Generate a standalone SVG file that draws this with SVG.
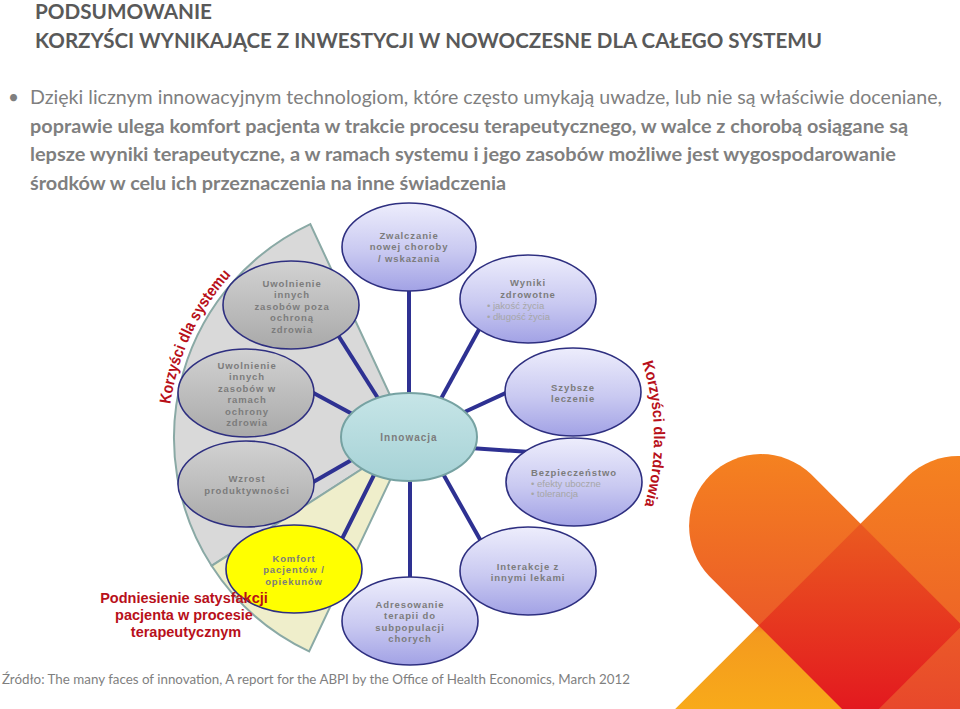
<svg xmlns="http://www.w3.org/2000/svg" width="960" height="709" viewBox="0 0 960 709">
<defs>
<linearGradient id="lav" x1="0" y1="0" x2="0" y2="1"><stop offset="0" stop-color="#ededfc"/><stop offset="0.55" stop-color="#c9c9f1"/><stop offset="1" stop-color="#a2a2e5"/></linearGradient>
<linearGradient id="gry" x1="0" y1="0" x2="0" y2="1"><stop offset="0" stop-color="#d2d2d2"/><stop offset="1" stop-color="#a9a9a9"/></linearGradient>
<linearGradient id="teal" x1="0" y1="0" x2="0" y2="1"><stop offset="0" stop-color="#c6e5e7"/><stop offset="1" stop-color="#a6d2d6"/></linearGradient>
<linearGradient id="hl" gradientUnits="userSpaceOnUse" x1="0" y1="453" x2="0" y2="709"><stop offset="0" stop-color="#f58220"/><stop offset="0.68" stop-color="#eb5a28"/><stop offset="1" stop-color="#e8482b"/></linearGradient>
<linearGradient id="hr" gradientUnits="userSpaceOnUse" x1="0" y1="455" x2="0" y2="709"><stop offset="0" stop-color="#f58220"/><stop offset="0.65" stop-color="#ee6626"/><stop offset="0.7" stop-color="#f49a1e"/><stop offset="1" stop-color="#f8aa1a"/></linearGradient>
<linearGradient id="hm" gradientUnits="userSpaceOnUse" x1="0" y1="524" x2="0" y2="709"><stop offset="0" stop-color="#ea5a20"/><stop offset="1" stop-color="#e3191f"/></linearGradient>
<path id="arcSys" d="M 170.4 404.3 A 242 242 0 0 1 233 273"/>
<path id="arcZdr" d="M 642.1 362.6 A 244 244 0 0 1 642.1 513.4"/>
</defs>
<style>
.hd{font-family:"Lato","Open Sans",sans-serif;font-weight:bold;font-size:20px;fill:#595959}
.bt{font-family:"Lato","Open Sans",sans-serif;font-size:19px;fill:#7f7f7f}
.bb{font-weight:bold}
.src{font-family:"Lato","Open Sans",sans-serif;font-size:14px;fill:#7f7f7f}
.n{fill:url(#lav);stroke:#2e2f80;stroke-width:1.6}
.g{fill:url(#gry);stroke:#2e2f80;stroke-width:1.6}
.y{fill:#ffff00;stroke:#2e2f80;stroke-width:1.6}
.inn{fill:url(#teal);stroke:#76a2a2;stroke-width:2}
.lbl{font-family:"Liberation Sans",Arial,sans-serif;font-weight:bold;font-size:9.5px;letter-spacing:0.9px;fill:#7c7c7c;text-anchor:middle}
.sub{font-family:"Liberation Sans",Arial,sans-serif;font-size:9.5px;fill:#a6a6a6}
.red{font-family:"Liberation Sans",Arial,sans-serif;font-weight:bold;fill:#b8101a}
.conn line{stroke:#2e3192;stroke-width:4}
.sec{stroke:#8aa9a5;stroke-width:2}
</style>
<rect width="960" height="709" fill="#ffffff"/>

<g id="logo">
<path d="M 908.1 476.1 L 608.1 776.1 L 709.9 877.9 L 1009.9 577.9 A 72 72 0 0 0 908.1 476.1 Z" fill="url(#hr)"/>
<path d="M 810.9 474.1 L 1110.9 774.1 L 1009.1 875.9 L 709.1 575.9 A 72 72 0 0 1 810.9 474.1 Z" fill="url(#hl)"/>
<path d="M 860.5 523.7 L 962.3 625.5 L 860.5 727.3 L 758.7 625.5 Z" fill="url(#hm)"/>
</g>

<g id="header">
<text class="hd" x="35" y="19" textLength="177" lengthAdjust="spacingAndGlyphs">PODSUMOWANIE</text>
<text class="hd" x="35" y="48" textLength="787" lengthAdjust="spacingAndGlyphs">KORZYŚCI WYNIKAJĄCE Z INWESTYCJI W NOWOCZESNE DLA CAŁEGO SYSTEMU</text>
</g>

<g id="bullet">
<text class="bt" x="8" y="104">•</text>
<text class="bt" x="30" y="104" textLength="912" lengthAdjust="spacingAndGlyphs">Dzięki licznym innowacyjnym technologiom, które często umykają uwadze, lub nie są właściwie doceniane,</text>
<text class="bt bb" x="30" y="132.5" textLength="878" lengthAdjust="spacingAndGlyphs">poprawie ulega komfort pacjenta w trakcie procesu terapeutycznego, w walce z chorobą osiągane są</text>
<text class="bt bb" x="30" y="161" textLength="866" lengthAdjust="spacingAndGlyphs">lepsze wyniki terapeutyczne, a w ramach systemu i jego zasobów możliwe jest wygospodarowanie</text>
<text class="bt bb" x="30" y="189.5" textLength="476" lengthAdjust="spacingAndGlyphs">środków w celu ich przeznaczenia na inne świadczenia</text>
</g>

<g id="sectors">
<path class="sec" d="M 410 438 L 310.3 224.1 A 236 236 0 0 0 211.6 565.8 Z" fill="#d9d9d9"/>
<path class="sec" d="M 410 438 L 211.6 565.8 A 236 236 0 0 0 309.1 651.4 Z" fill="#efeecb"/>
</g>

<g id="connectors" class="conn">
<line x1="409" y1="285" x2="409" y2="400"/>
<line x1="437" y1="406" x2="482" y2="324"/>
<line x1="458" y1="415" x2="512" y2="390"/>
<line x1="470" y1="448" x2="530" y2="452"/>
<line x1="442" y1="472" x2="482" y2="543"/>
<line x1="410" y1="475" x2="410" y2="585"/>
<line x1="376" y1="471" x2="340" y2="543"/>
<line x1="355" y1="458" x2="308" y2="485"/>
<line x1="308" y1="390" x2="356" y2="416"/>
<line x1="336" y1="332" x2="381" y2="403"/>
</g>

<g id="n-zwalczanie">
<ellipse class="n" cx="409" cy="247" rx="67" ry="44"/>
<text class="lbl" x="409" y="238.5">Zwalczanie</text>
<text class="lbl" x="409" y="250">nowej choroby</text>
<text class="lbl" x="409" y="261.5">/ wskazania</text>
</g>

<g id="n-wyniki">
<ellipse class="n" cx="528" cy="299" rx="68" ry="44"/>
<text class="lbl" x="528" y="285.5">Wyniki</text>
<text class="lbl" x="528" y="297.5">zdrowotne</text>
<text class="sub" x="487" y="308.5">• jakość życia</text>
<text class="sub" x="487" y="319.5">• długość życia</text>
</g>

<g id="n-szybsze">
<ellipse class="n" cx="573" cy="392" rx="68" ry="44"/>
<text class="lbl" x="573" y="390.5">Szybsze</text>
<text class="lbl" x="573" y="401.5">leczenie</text>
</g>

<g id="n-bezpieczenstwo">
<ellipse class="n" cx="574" cy="482" rx="68" ry="44"/>
<text class="lbl" x="574" y="475.5">Bezpieczeństwo</text>
<text class="sub" x="531" y="486.5">• efekty uboczne</text>
<text class="sub" x="531" y="497">• tolerancja</text>
</g>

<g id="n-interakcje">
<ellipse class="n" cx="528" cy="571" rx="68" ry="44"/>
<text class="lbl" x="528" y="569.5">Interakcje z</text>
<text class="lbl" x="528" y="580.5">innymi lekami</text>
</g>

<g id="n-adresowanie">
<ellipse class="n" cx="410" cy="621" rx="68" ry="44"/>
<text class="lbl" x="410" y="607.5">Adresowanie</text>
<text class="lbl" x="410" y="619">terapii do</text>
<text class="lbl" x="410" y="630.5">subpopulacji</text>
<text class="lbl" x="410" y="642">chorych</text>
</g>

<g id="n-komfort">
<ellipse class="y" cx="294" cy="569" rx="68" ry="44"/>
<text class="lbl" x="294" y="561.5">Komfort</text>
<text class="lbl" x="294" y="573">pacjentów /</text>
<text class="lbl" x="294" y="584.5">opiekunów</text>
</g>

<g id="n-wzrost">
<ellipse class="g" cx="246" cy="484" rx="68" ry="43"/>
<text class="lbl" x="247" y="481.5">Wzrost</text>
<text class="lbl" x="247" y="493.5">produktywności</text>
</g>

<g id="n-uwolnienie-w">
<ellipse class="g" cx="246" cy="393" rx="68" ry="44"/>
<text class="lbl" x="247" y="368.5">Uwolnienie</text>
<text class="lbl" x="247" y="380">innych</text>
<text class="lbl" x="247" y="391.5">zasobów w</text>
<text class="lbl" x="247" y="403">ramach</text>
<text class="lbl" x="247" y="414.5">ochrony</text>
<text class="lbl" x="247" y="426">zdrowia</text>
</g>

<g id="n-uwolnienie-poza">
<ellipse class="g" cx="291" cy="305" rx="68" ry="44"/>
<text class="lbl" x="292" y="286.5">Uwolnienie</text>
<text class="lbl" x="292" y="298">innych</text>
<text class="lbl" x="292" y="309.5">zasobów poza</text>
<text class="lbl" x="292" y="321">ochroną</text>
<text class="lbl" x="292" y="332.5">zdrowia</text>
</g>

<g id="n-innowacja">
<ellipse class="inn" cx="409" cy="437" rx="68" ry="44"/>
<text class="lbl" x="409" y="441" style="font-size:10px;letter-spacing:1px">Innowacja</text>
</g>

<g id="labels">
<text class="red" font-size="16"><textPath href="#arcSys" textLength="145" lengthAdjust="spacingAndGlyphs">Korzyści dla systemu</textPath></text>
<text class="red" font-size="15.5"><textPath href="#arcZdr" textLength="145" lengthAdjust="spacingAndGlyphs">Korzyści dla zdrowia</textPath></text>
<text class="red" font-size="14.5" text-anchor="middle"><tspan x="184" y="603">Podniesienie satysfakcji</tspan><tspan x="184" y="620">pacjenta w procesie</tspan><tspan x="186" y="637">terapeutycznym</tspan></text>
</g>

<g id="source">
<text class="src" x="2" y="684" textLength="628" lengthAdjust="spacingAndGlyphs">Źródło: The many faces of innovation, A report for the ABPI by the Office of Health Economics, March 2012</text>
</g>
</svg>
